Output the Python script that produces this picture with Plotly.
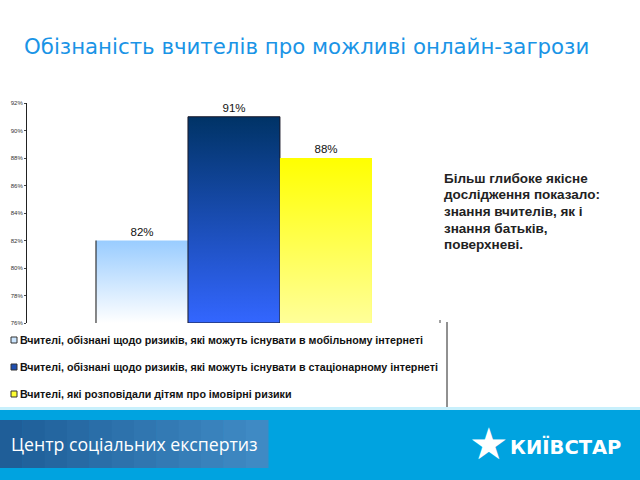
import plotly.graph_objects as go

# ---- data ----
categories = [
    "Вчителі, обізнані щодо ризиків, які можуть існувати в мобільному інтернеті",
    "Вчителі, обізнані щодо ризиків, які можуть існувати в стаціонарному інтернеті",
    "Вчителі, які розповідали дітям про імовірні ризики",
]
values = [82, 91, 88]
labels = ["82%", "91%", "88%"]
tick_values = [76, 78, 80, 82, 84, 86, 88, 90, 92]
tick_labels = ["76%", "78%", "80%", "82%", "84%", "86%", "88%", "90%", "92%"]
title_text = "Обізнаність вчителів про можливі онлайн-загрози"
note_lines = ["Більш глибоке якісне", "дослідження показало:", "знання вчителів, як і",
              "знання батьків,", "поверхневі."]
footer_left = "Центр соціальних експертиз"
footer_right = "КИЇВСТАР"

top_colors = ["#99ccff", "#003366", "#ffff00"]
bottom_colors = ["#ffffff", "#3366ff", "#ffff99"]
line_colors = ["rgba(0,0,0,0)", "#1a1a2a", "rgba(0,0,0,0)"]
legend_fill = ["#cce6ff", "#1f4fb0", "#ffff33"]

W, H = 640, 480
L, R, T, B = 27, 200, 103, 157
pw, ph = W - L - R, H - T - B


def px(x):
    return (x - L) / pw


def py(y):
    return (H - B - y) / ph


fig = go.Figure()
base = tick_values[0]
for i, (cat, v, lab) in enumerate(zip(categories, values, labels)):
    fig.add_trace(go.Bar(
        x=[i], y=[v], width=1, name=cat, text=[lab], textposition="outside",
        textfont=dict(family="Liberation Sans, Arial", size=11.5, color="#111"),
        marker=dict(color=top_colors[i], line=dict(width=0)),
        cliponaxis=False, showlegend=False,
    ))
for i, v in enumerate(values):
    fig.add_trace(go.Scatter(
        x=[i - 0.5, i + 0.5, i + 0.5, i - 0.5, i - 0.5],
        y=[base, base, v, v, base],
        mode="lines", fill="toself",
        line=dict(color=line_colors[i], width=1),
        fillgradient=dict(type="vertical", start=base, stop=v,
                          colorscale=[[0, bottom_colors[i]], [1, top_colors[i]]]),
        showlegend=False, hoverinfo="skip",
    ))
# dark left edge of first bar
fig.add_trace(go.Scatter(x=[-0.5, -0.5], y=[base, values[0]], mode="lines",
                         line=dict(color="#111", width=1), showlegend=False, hoverinfo="skip"))

fig.update_layout(
    width=W, height=H, margin=dict(l=L, r=R, t=T, b=B, autoexpand=False),
    paper_bgcolor="white", plot_bgcolor="white",
    bargap=0, showlegend=False,
    xaxis=dict(range=[-1.25, 3.24], visible=False, fixedrange=True),
    yaxis=dict(range=[76, 92], tickvals=tick_values, ticktext=tick_labels, automargin=False,
               showgrid=False, zeroline=False, showline=True, linecolor="#222", linewidth=1,
               ticks="outside", ticklen=2, tickcolor="#444",
               tickfont=dict(family="Liberation Sans, Arial", size=6, color="#333")),
)

shapes = [
    dict(type="line", xref="paper", yref="paper", x0=px(447), x1=px(447), y0=py(322), y1=py(408),
         line=dict(color="#222", width=1)),
    dict(type="line", xref="paper", yref="paper", x0=px(440), x1=px(440), y0=py(320), y1=py(323),
         line=dict(color="#444", width=1)),
    dict(type="rect", xref="paper", yref="paper", x0=px(0), x1=px(640), y0=py(480), y1=py(410),
         fillcolor="#00a3e0", line=dict(width=0), layer="above"),
    dict(type="rect", xref="paper", yref="paper", x0=px(0), x1=px(640), y0=py(410), y1=py(407),
         fillcolor="#c8f0fc", line=dict(width=0), layer="above"),
]
box_cols = ["#1f5e98", "#21629c", "#2466a0", "#276aa4", "#2a6ea8", "#2d72ac",
            "#3076b0", "#337ab4", "#367eb8", "#3982bc", "#3c86c0", "#3f8ac4"]
n = len(box_cols)
for k, c in enumerate(box_cols):
    shapes.append(dict(type="rect", xref="paper", yref="paper",
                       x0=px(268 * k / n), x1=px(268 * (k + 1) / n + 0.5), y0=py(468), y1=py(420),
                       fillcolor=c, line=dict(width=0), layer="above"))

# manual legend
legend_y = [340, 367, 394]
for i, cat in enumerate(categories):
    shapes.append(dict(type="rect", xref="paper", yref="paper",
                       x0=px(11), x1=px(17), y0=py(legend_y[i] + 3), y1=py(legend_y[i] - 3),
                       fillcolor=legend_fill[i], line=dict(color="#333", width=1)))
    fig.add_annotation(text=cat, xref="paper", yref="paper", x=px(18), y=py(legend_y[i]),
                       xanchor="left", yanchor="middle", showarrow=False,
                       font=dict(family="Liberation Sans, Arial", size=10.7, color="#111", weight="bold"))
fig.update_layout(shapes=shapes)

fig.add_annotation(text=title_text, xref="paper", yref="paper", x=px(22), y=py(47),
                   xanchor="left", yanchor="middle", showarrow=False,
                   font=dict(family="DejaVu Sans", size=21.3, color="#1a94e6"))
for j, line in enumerate(note_lines):
    fig.add_annotation(text=line, xref="paper", yref="paper", x=px(442), y=py(178 + 16.7 * j),
                       xanchor="left", yanchor="middle", showarrow=False, align="left",
                       font=dict(family="Liberation Sans, Arial", size=13.5, color="#222", weight="bold"))
fig.add_annotation(text=footer_left, xref="paper", yref="paper", x=px(9), y=py(444),
                   xanchor="left", yanchor="middle", showarrow=False,
                   font=dict(family="Open Sans", size=17.7, color="white"))
fig.add_annotation(text="★", xref="paper", yref="paper", x=px(488), y=py(443),
                   xanchor="center", yanchor="middle", showarrow=False,
                   font=dict(family="DejaVu Sans", size=44, color="white"))
fig.add_annotation(text=footer_right, xref="paper", yref="paper", x=px(508), y=py(447),
                   xanchor="left", yanchor="middle", showarrow=False,
                   font=dict(family="DejaVu Sans", size=19.5, color="white", weight="bold"))

fig.write_html("out.html")
